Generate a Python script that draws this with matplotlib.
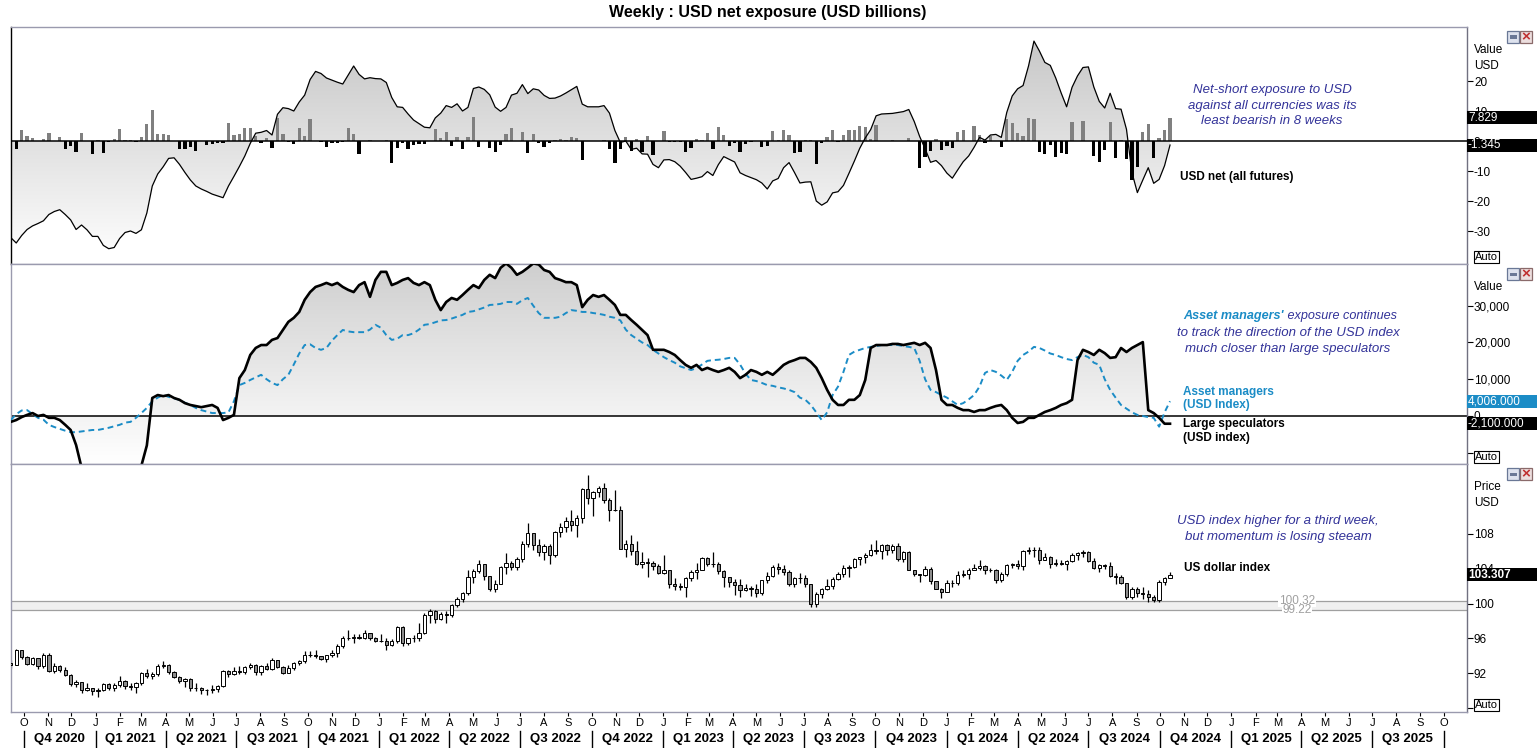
import numpy as np
import pandas as pd
import matplotlib
matplotlib.use("Agg")
import matplotlib.pyplot as plt
import matplotlib.dates as mdates
import matplotlib.transforms as mtransforms
from matplotlib.path import Path
from matplotlib.patches import Rectangle
from matplotlib.lines import Line2D
from matplotlib.colors import LinearSegmentedColormap
from matplotlib.ticker import FixedLocator, FuncFormatter

plt.rcParams['font.family'] = ['Liberation Sans', 'DejaVu Sans']

# ---------------- DATA ----------------
weeks = pd.date_range('2020-09-14', '2024-10-14', freq='W-MON')

usd_net = [-32.2,-34.0,-31.5,-29.5,-28.3,-27.5,-26.6,-24.5,-23.5,-22.9,
 -24.5,-26.3,-29.5,-28.0,-29.6,-31.8,-31.8,-34.8,-35.9,-35.5,
 -32.5,-30.5,-30.0,-30.8,-29.6,-24.0,-15.0,-11.0,-8.6,-5.8,
 -5.6,-7.8,-10.5,-13.0,-15.0,-16.0,-16.8,-17.7,-18.3,-18.9,
 -15.0,-11.8,-8.5,-5.0,-0.8,2.6,2.9,3.5,2.0,8.9,
 11.1,10.8,10.0,13.0,15.3,20.5,23.2,22.5,21.0,20.3,
 19.6,19.0,22.0,25.0,22.2,20.7,21.1,20.8,20.7,19.5,
 14.5,11.4,11.2,9.0,7.0,5.8,4.6,4.4,7.7,9.3,
 11.8,11.2,12.4,10.0,11.2,17.5,18.0,17.2,15.4,11.3,
 9.9,11.2,15.3,15.9,18.8,15.8,17.4,17.0,15.2,14.2,
 14.3,15.0,16.0,17.1,18.2,12.3,11.4,11.4,11.4,11.8,
 9.3,3.5,-0.5,0.0,-2.8,-2.4,-4.3,-4.4,-7.8,-8.9,
 -6.3,-6.2,-6.9,-8.4,-10.5,-12.8,-12.4,-11.9,-10.2,-11.5,
 -7.9,-5.2,-6.1,-7.0,-10.6,-11.5,-12.2,-12.9,-14.0,-16.0,
 -13.3,-12.5,-8.9,-7.2,-10.5,-14.0,-13.7,-13.6,-20.0,-21.4,
 -20.3,-17.3,-16.9,-14.8,-10.8,-6.7,-2.4,1.0,3.8,8.4,
 9.0,9.1,9.2,9.5,9.8,10.5,6.5,1.5,-2.6,-7.1,
 -6.5,-8.2,-10.7,-12.4,-9.6,-6.9,-5.0,-2.1,1.2,0.3,
 2.0,2.2,1.2,9.5,15.0,17.4,18.5,25.0,33.3,30.0,
 26.2,25.2,21.0,16.0,11.4,17.9,21.7,24.5,24.7,18.0,
 13.2,11.0,15.9,10.8,10.6,3.9,-10.5,-17.2,-13.0,-8.9,
 -14.1,-12.8,-8.2,-1.345]

usd_net_change = [1.3,-2.6,3.8,1.7,1.0,0,0.7,2.7,0,1.3,
 -2.6,-1.7,-3.6,2.7,0,-4.4,0.3,-3.9,-0.3,0.7,
 4.0,0.3,0.3,-0.3,1.3,5.7,10.3,2.3,2.3,2.0,
 0,-2.6,-2.6,-1.9,-3.3,0,-1.4,-0.9,-0.6,-0.8,
 6.1,2.0,2.3,4.3,4.3,1.7,-0.8,1.0,-2.2,7.8,
 2.3,-0.3,-1.1,4.3,1.7,7.3,0,-0.3,-1.9,-0.8,
 -0.8,-0.4,4.3,2.3,-4.4,0,0.3,0,0,0.3,
 -7.2,-2.2,-0.6,-2.8,-1.4,-1.1,-1.1,0,4.1,1.0,
 3.0,-1.6,1.3,-2.6,1.3,8.0,-1.9,0,-2.2,-3.6,
 -1.4,2.3,4.3,0,3.0,-3.9,2.3,-0.8,-1.9,-0.8,
 0.3,0.7,0.3,1.3,1.0,-6.4,0,0,0,0.3,
 -2.6,-7.4,-2.8,1.3,-3.3,0.7,-3.6,1.7,-4.8,0,
 3.3,-0.3,-0.3,-0.4,-3.6,-2.2,0.7,0.3,2.7,-2.6,
 4.7,2.0,-1.6,-0.8,-3.6,-1.1,-0.4,0,-1.9,-1.8,
 3.3,0.3,3.7,2.0,-3.9,-3.6,0.3,0.3,-7.6,-0.8,
 1.3,3.7,-0.3,2.0,3.7,3.7,5.0,4.7,0.7,5.3,
 0,0,0.3,0,0,1.0,0,-8.9,-5.3,-3.3,
 0.7,-3.0,-1.7,-2.2,3.0,3.7,0,5.0,2.0,-0.6,
 1.7,0,-1.9,7.2,6.0,2.7,1.7,7.7,7.3,-3.7,
 -4.2,-1.2,-5.2,-3.9,-4.4,6.3,0,6.7,0,-4.9,
 -6.9,-2.9,6.3,-5.6,0.3,-6.1,-13.1,-8.6,3.0,5.7,
 -5.6,1.0,3.7,7.829]

# thousands of contracts
large_specs = [-1.6,-1.1,-0.3,0.3,0.8,0.0,0.3,-0.5,-0.5,-1.1,
 -2.4,-3.8,-7.9,-14.0,-16.0,-17.0,-17.5,-18.0,-18.0,-17.5,
 -17.0,-16.5,-16.0,-15.0,-13.5,-8.0,4.9,5.7,5.4,5.7,
 4.9,4.4,3.5,3.0,2.7,2.4,2.7,3.0,2.2,-1.1,
 -0.5,0.3,10.3,12.5,16.6,18.5,19.3,19.3,20.7,21.2,
 23.4,25.6,26.7,28.3,31.6,33.7,35.1,35.6,36.2,35.6,
 36.2,35.1,34.3,33.7,35.6,36.4,32.4,37.0,39.2,39.2,
 35.6,36.2,37.0,37.5,36.2,35.6,36.4,35.6,31.6,28.8,
 31.0,32.1,31.6,32.9,34.3,35.6,34.8,37.0,38.4,37.5,
 40.3,41.5,40.3,38.4,39.2,40.3,41.5,41.2,39.7,39.2,
 37.5,37.0,36.4,36.4,35.6,29.6,31.6,32.9,32.4,32.9,
 31.6,30.2,27.5,27.5,26.1,24.8,23.4,22.0,18.0,18.0,
 18.0,17.4,16.6,15.2,13.9,13.1,13.9,12.5,13.1,12.5,
 12.0,12.5,13.1,12.0,10.3,11.2,12.5,12.0,11.2,12.0,
 11.2,12.5,13.9,14.7,15.2,15.8,15.8,14.7,13.1,10.3,
 7.1,4.4,3.0,3.0,4.4,4.4,5.7,9.8,18.5,19.3,
 19.3,19.3,19.6,19.6,19.3,19.6,19.9,19.3,19.9,18.5,
 12.5,4.4,3.0,3.0,2.2,1.6,1.6,1.1,1.6,1.6,
 2.2,2.7,3.0,1.6,-0.5,-1.9,-1.6,-0.5,-0.5,0.3,
 1.1,1.6,2.2,3.0,3.5,4.4,15.2,18.0,17.4,16.6,
 18.0,17.1,15.8,16.0,18.5,17.4,18.5,19.3,20.1,1.6,
 0.8,-0.5,-2.1,-2.1]

asset_managers = [-1.1,0.5,1.5,1.6,0.5,-0.5,-1.0,-2.4,-3.0,-3.5,
 -4.0,-4.4,-4.4,-4.2,-4.0,-3.8,-3.8,-3.5,-3.2,-2.8,
 -2.4,-1.8,-1.6,-0.5,0.8,2.2,4.0,5.0,5.7,5.2,
 4.8,4.4,3.6,3.0,2.2,1.6,1.2,0.8,0.8,0.8,
 1.0,4.0,8.4,9.0,9.8,10.5,11.2,10.0,9.0,8.4,
 10.0,11.2,14.0,17.0,19.3,19.5,18.5,18.0,18.5,20.5,
 22.0,23.4,23.0,22.8,22.8,22.8,23.5,24.8,24.0,22.0,
 20.7,21.0,22.0,22.0,22.5,23.5,24.8,25.0,25.5,26.0,
 26.1,26.5,27.0,27.5,28.3,28.5,29.0,29.5,30.2,30.3,
 30.5,31.0,31.0,30.5,31.5,32.1,30.0,28.0,26.7,26.7,
 26.7,27.0,28.0,28.8,28.6,28.3,28.3,28.0,27.8,27.5,
 27.0,26.7,26.0,23.5,22.0,21.0,20.0,19.3,18.0,17.0,
 16.0,15.2,14.5,13.5,13.0,12.5,13.0,14.0,15.0,15.2,
 15.3,15.5,15.8,15.8,14.0,11.5,9.8,9.5,9.0,8.4,
 8.2,7.8,7.5,7.1,6.5,5.0,4.4,3.0,1.0,-1.1,
 1.0,5.7,8.0,12.0,16.6,17.5,18.0,18.5,18.8,19.0,
 19.3,19.3,19.3,19.3,19.0,18.8,18.5,15.0,10.0,7.1,
 6.5,5.7,5.0,4.0,3.0,3.5,4.5,5.7,8.0,11.7,
 12.5,12.0,11.0,9.8,12.0,15.0,16.6,17.5,18.8,18.5,
 17.8,17.0,16.6,16.0,15.5,15.2,16.0,16.6,16.0,14.5,
 13.9,10.0,7.1,5.0,3.0,2.0,1.0,0.3,0.0,-0.3,
 -0.5,-2.9,1.0,4.006]

dxy_open = [93.20,92.93,94.64,93.84,93.06,93.68,92.77,94.04,92.23,92.76,
 92.39,91.79,90.70,90.98,90.02,90.26,89.94,90.10,90.77,90.22,
 90.58,91.03,90.48,90.36,90.88,91.98,91.67,91.92,92.77,92.94,
 92.17,91.56,91.06,91.28,90.22,90.32,89.99,90.03,90.13,90.55,
 92.22,91.85,92.23,92.12,92.68,92.90,92.17,92.78,92.52,93.50,
 92.68,92.04,92.58,93.19,93.33,94.04,94.08,93.96,93.64,94.12,
 94.32,95.12,96.03,96.08,96.15,96.08,96.62,96.02,95.67,95.74,
 95.17,95.64,97.27,95.49,96.05,96.05,96.61,98.65,99.12,98.23,
 98.79,98.62,99.80,100.5,101.2,103.0,103.7,104.6,103.2,101.7,
 102.2,104.2,104.7,104.2,105.1,106.9,108.1,106.7,105.9,106.6,
 105.6,108.2,108.8,109.5,109.0,109.8,113.2,112.1,112.8,113.3,
 111.9,110.8,110.8,106.3,106.9,106.0,104.5,104.8,104.7,104.3,
 103.5,103.9,102.2,102.0,101.9,102.9,103.6,103.9,105.2,104.5,
 104.6,103.7,103.1,102.5,102.1,101.5,101.8,101.7,101.2,102.7,
 103.2,104.2,104.0,103.6,102.3,102.9,102.9,102.3,99.9,101.1,
 101.7,102.0,102.8,103.4,104.1,104.2,105.1,105.3,105.6,106.2,
 106.0,106.7,106.2,106.6,105.1,105.9,103.9,103.4,103.3,104.0,
 102.6,101.7,101.3,102.4,102.4,103.3,103.4,103.9,104.1,104.3,
 103.9,103.9,102.7,103.4,104.4,104.5,104.3,106.0,106.2,106.1,
 105.0,105.3,104.5,104.7,104.6,104.9,105.6,105.8,105.9,104.9,
 104.1,104.4,104.3,103.2,103.1,102.4,100.7,101.7,101.2,101.1,
 100.7,100.4,102.5,102.9]

dxy_high = [93.5,94.74,94.6,94.0,93.9,93.7,94.3,94.3,93.2,92.9,
 92.7,91.9,91.2,91.0,90.8,90.3,90.3,90.9,90.9,90.9,
 91.6,91.2,90.9,91.0,92.1,92.5,92.1,93.0,93.4,93.0,
 92.2,91.7,91.4,91.4,90.9,90.4,90.2,90.6,90.6,92.4,
 92.4,92.7,92.8,92.8,93.2,93.0,92.9,93.2,93.7,93.5,
 92.8,92.9,93.3,93.5,94.5,94.5,94.6,94.0,94.1,94.6,
 95.3,96.3,96.9,96.5,96.5,96.9,96.6,96.2,96.5,96.0,
 95.9,97.4,97.4,96.0,96.4,97.7,98.9,99.4,99.3,99.0,
 99.1,100.0,100.8,101.3,103.9,104.0,105.0,104.6,103.1,102.7,
 104.3,105.8,104.9,105.4,107.2,109.3,108.0,107.4,106.8,106.9,
 108.3,109.3,110.0,110.8,110.2,113.3,114.8,112.9,113.5,113.9,
 112.1,113.1,111.2,107.3,107.9,107.2,105.9,105.2,104.9,104.6,
 105.6,103.9,102.9,102.4,103.0,103.9,104.7,105.4,105.4,105.9,
 104.8,103.8,103.0,102.8,102.8,102.2,102.0,102.2,102.7,103.6,
 104.4,104.7,104.4,103.8,103.0,103.5,103.3,102.3,101.3,101.8,
 102.8,103.0,103.6,104.4,104.4,105.2,105.4,105.8,106.8,107.3,
 106.9,106.8,106.9,107.0,106.0,106.0,103.9,103.4,104.3,104.2,
 102.6,101.8,102.7,102.7,103.7,103.8,104.1,104.6,105.0,104.4,
 104.1,104.0,103.6,104.5,104.7,105.0,106.1,106.5,106.5,106.5,
 105.8,105.5,105.1,105.0,105.0,105.8,105.9,106.1,106.0,105.2,
 104.6,104.5,104.8,103.5,103.3,102.4,101.9,101.9,101.9,101.5,
 101.0,102.7,103.1,103.6]

dxy_low = [92.6,92.9,93.6,92.9,92.9,92.5,92.6,92.1,92.0,92.1,
 91.6,90.5,90.4,89.7,89.9,89.5,89.2,89.9,90.0,89.9,
 90.4,90.2,90.0,89.7,90.6,91.4,91.3,91.7,92.6,91.9,
 91.4,90.8,90.4,89.9,89.9,89.6,89.5,89.7,89.8,90.4,
 91.5,91.8,91.9,91.9,92.5,91.8,91.8,92.4,92.4,92.6,
 91.9,92.0,92.3,92.9,93.2,93.8,93.7,93.5,93.3,93.9,
 93.9,94.9,95.8,95.5,95.9,95.9,95.8,95.6,95.6,94.6,
 95.1,95.5,95.1,95.2,95.6,95.7,96.5,97.7,97.7,98.1,
 97.7,98.5,99.6,100.2,101.0,102.4,103.5,102.7,101.4,101.3,
 102.2,103.4,103.8,103.9,104.8,106.5,106.2,105.5,105.0,104.6,
 105.3,107.6,108.2,108.4,107.6,109.3,111.4,110.1,112.2,111.6,
 109.5,110.6,106.3,105.3,105.6,104.4,104.1,103.0,103.8,103.4,
 103.4,101.8,101.5,101.5,100.8,102.6,102.8,103.8,104.3,104.2,
 103.4,101.9,101.9,101.0,100.8,101.4,100.9,100.8,101.0,102.4,
 103.0,103.4,103.3,102.0,101.9,102.4,101.9,99.6,99.6,100.6,
 101.6,101.7,102.7,103.0,103.0,104.1,104.4,104.7,105.5,105.7,
 105.1,105.6,105.8,104.9,104.8,103.8,103.2,102.5,103.2,102.2,
 101.7,100.6,101.3,101.9,102.1,103.0,102.8,103.8,103.9,103.4,
 103.6,102.4,102.5,103.2,104.1,104.0,103.9,105.7,105.4,104.5,
 105.0,104.1,104.3,104.4,103.9,104.8,105.0,105.4,104.8,104.0,
 103.6,104.0,103.0,102.2,102.3,100.5,100.5,100.8,100.5,100.2,
 100.2,100.2,102.1,102.9]

dxy_close = [92.93,94.64,93.84,93.06,93.68,92.77,94.04,92.23,92.76,92.39,
 91.79,90.70,90.98,90.02,90.26,89.94,90.10,90.77,90.22,90.58,
 91.03,90.48,90.36,90.88,91.98,91.67,91.92,92.77,92.94,92.17,
 91.56,91.06,91.28,90.22,90.32,89.99,90.03,90.13,90.55,92.22,
 91.85,92.23,92.12,92.68,92.90,92.17,92.78,92.52,93.50,92.68,
 92.04,92.58,93.19,93.33,94.04,94.08,93.96,93.64,94.12,94.32,
 95.12,96.03,96.08,96.15,96.08,96.62,96.02,95.67,95.74,95.17,
 95.64,97.27,95.49,96.05,96.05,96.61,98.65,99.12,98.23,98.79,
 98.62,99.80,100.5,101.2,103.0,103.7,104.6,103.2,101.7,102.2,
 104.2,104.7,104.2,105.1,106.9,108.1,106.7,105.9,106.6,105.6,
 108.2,108.8,109.5,109.0,109.8,113.2,112.1,112.8,113.3,111.9,
 110.8,110.8,106.3,106.9,106.0,104.5,104.8,104.7,104.3,103.5,
 103.9,102.2,102.0,101.9,102.9,103.6,103.9,105.2,104.5,104.6,
 103.7,103.1,102.5,102.1,101.5,101.8,101.7,101.2,102.7,103.2,
 104.2,104.0,103.6,102.3,102.9,102.9,102.3,99.9,101.1,101.7,
 102.0,102.8,103.4,104.1,104.2,105.1,105.3,105.6,106.2,106.0,
 106.7,106.2,106.6,105.1,105.9,103.9,103.4,103.3,104.0,102.6,
 101.7,101.3,102.4,102.4,103.3,103.4,103.9,104.1,104.3,103.9,
 103.9,102.7,103.4,104.4,104.5,104.3,106.0,106.2,106.1,105.0,
 105.3,104.5,104.7,104.6,104.9,105.6,105.8,105.9,104.9,104.1,
 104.4,104.3,103.2,103.1,102.4,100.7,101.7,101.2,101.1,100.7,
 100.4,102.5,102.9,103.307]

support_levels = [100.32, 99.22]

title = "Weekly : USD net exposure (USD billions)"

# ---------------- LAYOUT ----------------
W, H = 1537, 748
fig = plt.figure(figsize=(W / 100, H / 100), dpi=100)

def fx(px):
    return px / W

def fy(py):
    return 1 - py / H

L_PX, R_PX = 11, 1467
PANELS = [(27, 264), (264, 464), (464, 712)]

def add_ax(top, bottom):
    return fig.add_axes([fx(L_PX), fy(bottom), fx(R_PX) - fx(L_PX), (bottom - top) / H])

ax1 = add_ax(*PANELS[0])
ax2 = add_ax(*PANELS[1])
ax3 = add_ax(*PANELS[2])

x = mdates.date2num(weeks)
x_o20 = mdates.date2num(pd.Timestamp('2020-10-01'))
x_o25 = mdates.date2num(pd.Timestamp('2025-10-01'))
ppd = (1443.7 - 24.0) / (x_o25 - x_o20)
xlim = (x_o20 - (24 - L_PX) / ppd, x_o20 + (R_PX - 24) / ppd)

ylims = [(-41.0, 38.0), (-(464 - 416) / 3.677, (416 - 264) / 3.677),
         (100 - (712 - 603.5) / 8.69, 100 + (603.5 - 464) / 8.69)]

for ax, yl in zip((ax1, ax2, ax3), ylims):
    ax.set_xlim(*xlim)
    ax.set_ylim(*yl)
    ax.set_facecolor('white')
    for s in ax.spines.values():
        s.set_color('#9a9aae')
        s.set_linewidth(1.0)
    ax.spines['right'].set_color('#707080')
    ax.yaxis.tick_right()
    ax.tick_params(axis='y', direction='out', length=4, width=0.8, pad=1,
                   labelsize=8.5, colors='black')
ax1.spines['left'].set_color('black')


def gradient_fill(ax, xs, ys, c_top, c_bot, z=1):
    verts = [(xs[0], 0.0)] + list(zip(xs, ys)) + [(xs[-1], 0.0), (xs[0], 0.0)]
    codes = [Path.MOVETO] + [Path.LINETO] * (len(verts) - 2) + [Path.CLOSEPOLY]
    path = Path(verts, codes)
    y0, y1 = ax.get_ylim()
    grad = np.linspace(1, 0, 256).reshape(-1, 1)
    cmap = LinearSegmentedColormap.from_list('g', [c_bot, c_top])
    im = ax.imshow(grad, extent=[xs[0], xs[-1], y0, y1], aspect='auto',
                   cmap=cmap, origin='upper', zorder=z, interpolation='bilinear')
    im.set_clip_path(path, transform=ax.transData)
    ax.set_xlim(*xlim)
    ax.set_ylim(y0, y1)

# ---- top panel ----
gradient_fill(ax1, x, usd_net, '#c4c4c4', '#ffffff', z=1)
bar_w = 3.3 / ppd
bar_colors = ['#808080' if v > 0 else '#000000' for v in usd_net_change]
ax1.bar(x, usd_net_change, width=bar_w, color=bar_colors, zorder=2, linewidth=0)
ax1.plot(x, usd_net, color='black', lw=0.9, zorder=3)
ax1.axhline(0, color='black', lw=1.1, zorder=4)
ax1.yaxis.set_major_locator(FixedLocator([-30, -20, -10, 0, 10, 20]))
ax1.yaxis.set_major_formatter(FuncFormatter(lambda v, p: f"{v:g}"))

# ---- middle panel ----
gradient_fill(ax2, x, large_specs, '#cfcfcf', '#ffffff', z=1)
ax2.axhline(0, color='black', lw=1.1, zorder=2)
ax2.plot(x, large_specs, color='black', lw=1.9, zorder=4)
ax2.plot(x, asset_managers, color='#1b8cc6', lw=1.4, dashes=(3, 2), zorder=3)
ax2.yaxis.set_major_locator(FixedLocator([-10, 0, 10, 20, 30]))
ax2.yaxis.set_major_formatter(FuncFormatter(
    lambda v, p: "" if v < 0 else f"{v * 1000:,.0f}"))

# ---- bottom panel ----
ax3.axhspan(support_levels[1], support_levels[0], color='#f0f0f0', zorder=0.5, lw=0)
for lv in support_levels:
    ax3.axhline(lv, color='#a0a0a0', lw=0.9, zorder=0.6)
o = np.array(dxy_open); c = np.array(dxy_close)
hi = np.array(dxy_high); lo = np.array(dxy_low)
up = c >= o
ax3.vlines(x, lo, hi, color='black', lw=0.9, zorder=2)
body_w = 3.3 / ppd
ax3.bar(x, np.abs(c - o), bottom=np.minimum(o, c), width=body_w,
        color=np.where(up, 'white', '#8c8c8c'), edgecolor='black', linewidth=0.7,
        zorder=3)
ax3.yaxis.set_major_locator(FixedLocator([88, 92, 96, 100, 104, 108]))
ax3.yaxis.set_major_formatter(FuncFormatter(lambda v, p: f"{v:g}"))

bt = mtransforms.blended_transform_factory(fig.transFigure, ax3.transData)
for lv in support_levels:
    ax3.text(fx(1297), lv, f"{lv:.2f}", transform=bt, ha='center', va='center',
             fontsize=8.5, color='#a0a0a0', zorder=5,
             bbox=dict(boxstyle='square,pad=0.05', fc='white', ec='none'))

# x axes
for ax in (ax1, ax2):
    ax.tick_params(axis='x', bottom=False, labelbottom=False)
ax3.xaxis.set_major_locator(mdates.MonthLocator())
ax3.xaxis.set_major_formatter(FuncFormatter(
    lambda v, p: mdates.num2date(v).strftime('%b')[0]))
ax3.tick_params(axis='x', direction='out', length=3, width=0.8, pad=1.5,
                labelsize=8, colors='black')

qt = mtransforms.blended_transform_factory(ax3.transData, fig.transFigure)
q_starts = pd.date_range('2020-10-01', '2025-10-01', freq='QS')
for qs in q_starts:
    xv = mdates.date2num(qs)
    fig.add_artist(Line2D([xv, xv], [fy(731), fy(747)], transform=qt,
                          color='black', lw=1.0))
for a, b in zip(q_starts[:-1], q_starts[1:]):
    xm = (mdates.date2num(a) + mdates.date2num(b)) / 2
    fig.text(xm, fy(739), f"Q{a.quarter} {a.year}", transform=qt,
             ha='center', va='center', fontsize=9.5, fontweight='bold')

# ---------------- TEXT ----------------
fig.text(fx(768), fy(12), title, ha='center', va='center',
         fontsize=11.5, fontweight='bold')

for (top, bot), heads in zip(PANELS, [("Value", "USD"), ("Value",), ("Price", "USD")]):
    for k, h in enumerate(heads):
        fig.text(fx(1474), fy(top + 23 + 16 * k), h, ha='left', va='center', fontsize=8.5)
    fig.text(fx(1475), fy(bot - 7), "Auto", ha='left', va='center', fontsize=8,
             bbox=dict(boxstyle='square,pad=0.12', fc='white', ec='black', lw=0.8),
             zorder=10)
    # window icons
    fig.add_artist(Rectangle((fx(1507), fy(top + 16)), 12 / W, 12 / H,
                             transform=fig.transFigure, fc='#dde2ee', ec='#6a7896', lw=0.9))
    fig.add_artist(Rectangle((fx(1509.5), fy(top + 11.5)), 7 / W, 3 / H,
                             transform=fig.transFigure, fc='#6a7896', ec='none'))
    fig.add_artist(Rectangle((fx(1520), fy(top + 16)), 12 / W, 12 / H,
                             transform=fig.transFigure, fc='#ecdede', ec='#8a6a6a', lw=0.9))
    fig.text(fx(1526), fy(top + 10), "×", ha='center', va='center', fontsize=11,
             color='#c03030', fontweight='bold')


def value_box(ax, val, text, fc, bold=False):
    disp = ax.transData.transform((0, val))[1]
    py = H - disp
    fig.add_artist(Rectangle((fx(1467), fy(py + 6.5)), (1537 - 1467) / W, 13 / H,
                             transform=fig.transFigure, fc=fc, ec='none', zorder=8))
    fig.text(fx(1468), fy(py), text, ha='left', va='center', fontsize=8.5,
             color='white', fontweight='bold' if bold else 'normal', zorder=9)

value_box(ax1, usd_net_change[-1], f"{usd_net_change[-1]:.3f}", 'black')
value_box(ax1, usd_net[-1], f"{usd_net[-1]:.3f}", 'black')
value_box(ax2, asset_managers[-1], f"{asset_managers[-1] * 1000:,.3f}", '#1b8cc6')
value_box(ax2, large_specs[-1], f"{large_specs[-1] * 1000:,.3f}", 'black')
value_box(ax3, dxy_close[-1], f"{dxy_close[-1]:.3f}", 'black', bold=True)

note_c = '#333399'
blue = '#1b8cc6'
fig.text(fx(1272), fy(105.5), "Net-short exposure to USD\nagainst all currencies was its\nleast bearish in 8 weeks",
         ha='center', va='center', fontsize=9.5, style='italic', color=note_c, linespacing=1.4)
fig.text(fx(1180), fy(177), "USD net (all futures)", ha='left', va='center',
         fontsize=8.5, fontweight='bold')

t1 = fig.text(fx(1183), fy(316), "Asset managers'", ha='left', va='center',
              fontsize=9.1, style='italic', fontweight='bold', color=blue)
ax2.annotate(" exposure continues", xy=(1, 0.5), xycoords=t1, ha='left', va='center',
             fontsize=9.1, style='italic', color=note_c, annotation_clip=False)
fig.text(fx(1288), fy(341), "to track the direction of the USD index\nmuch closer than large speculators",
         ha='center', va='center', fontsize=9.5, style='italic', color=note_c, linespacing=1.4)
fig.text(fx(1183), fy(398.5), "Asset managers\n(USD Index)", ha='left', va='center',
         fontsize=8.5, fontweight='bold', color=blue, linespacing=1.15)
fig.text(fx(1183), fy(431), "Large speculators\n(USD index)", ha='left', va='center',
         fontsize=8.5, fontweight='bold', color='black', linespacing=1.15)

fig.text(fx(1278), fy(529), "USD index higher for a third week,\nbut momentum is losing steeam",
         ha='center', va='center', fontsize=9.5, style='italic', color=note_c, linespacing=1.4)
fig.text(fx(1184), fy(568), "US dollar index", ha='left', va='center',
         fontsize=8.5, fontweight='bold')

fig.savefig('out.png', dpi=100)
